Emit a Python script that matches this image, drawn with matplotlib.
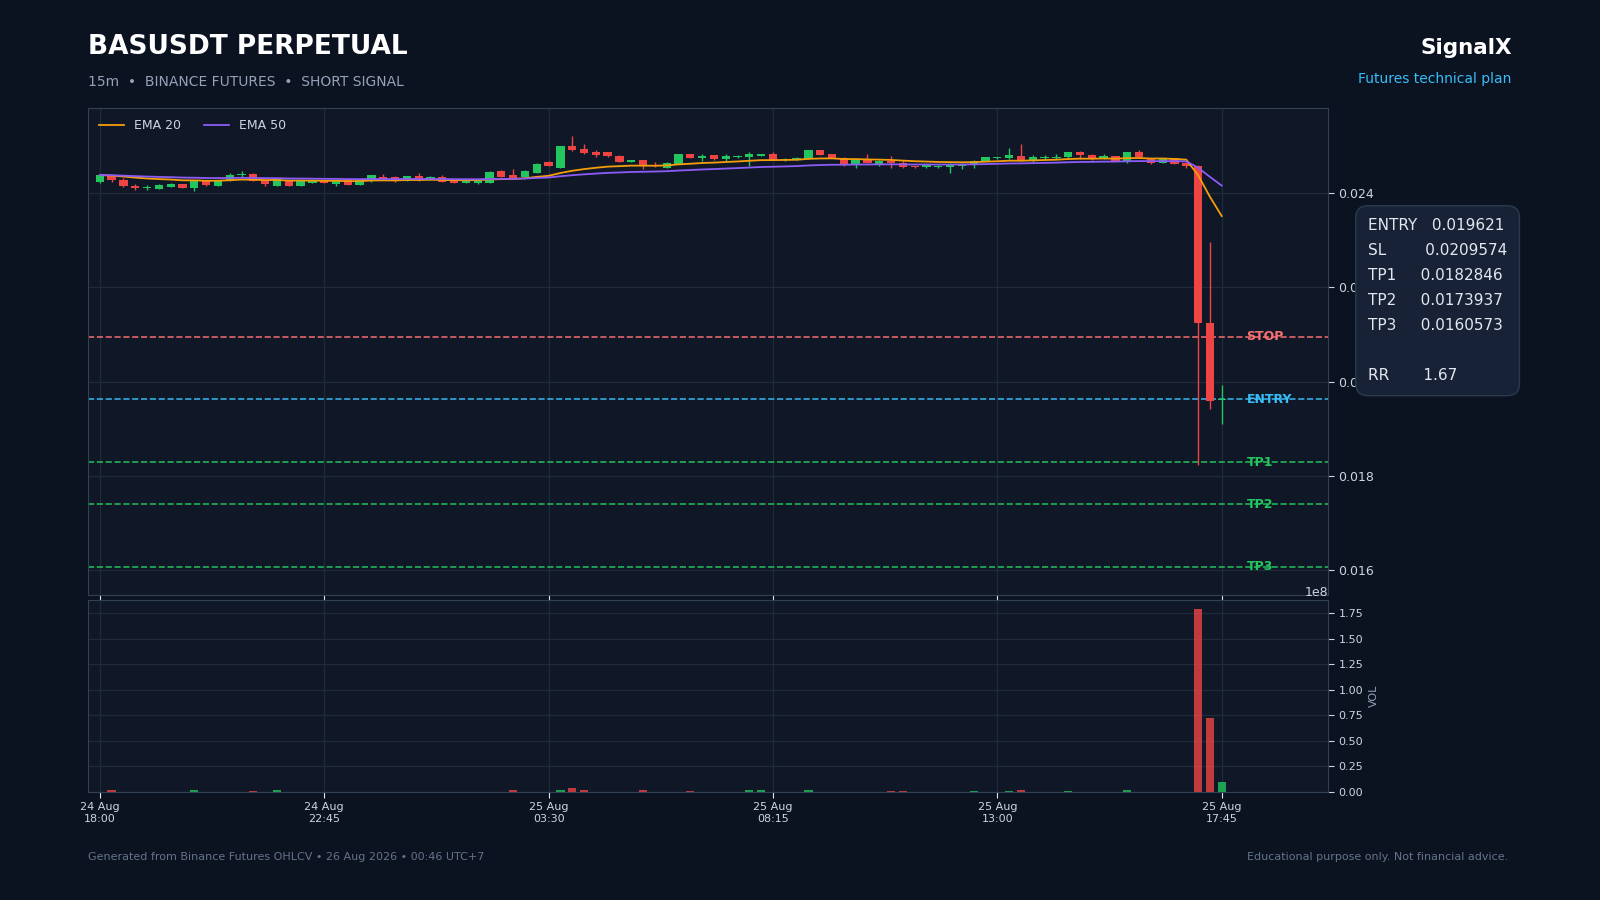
import numpy as np
import pandas as pd
import matplotlib
matplotlib.use("Agg")
import matplotlib.pyplot as plt

# ---------------- data (15m candles, 24 Aug 18:00 -> 25 Aug 17:45) ----------------
opens = [0.02425, 0.02438, 0.02428, 0.02416, 0.02411, 0.02410, 0.02414, 0.02420, 0.02412, 0.02428,
         0.02416, 0.02427, 0.02440, 0.02441, 0.02428, 0.02416, 0.02428, 0.02416, 0.02423, 0.02428,
         0.02421, 0.02428, 0.02418, 0.02426, 0.02435, 0.02435, 0.02427, 0.02437, 0.02430, 0.02434,
         0.02429, 0.02423, 0.02423, 0.02423, 0.02448, 0.02439, 0.02434, 0.02444, 0.02467, 0.02454,
         0.02500, 0.02494, 0.02487, 0.02487, 0.02480, 0.02467, 0.02470, 0.02461, 0.02455, 0.02463,
         0.02483, 0.02476, 0.02481, 0.02473, 0.02478, 0.02478, 0.02480, 0.02483, 0.02470, 0.02474,
         0.02474, 0.02492, 0.02483, 0.02476, 0.02460, 0.02474, 0.02463, 0.02468, 0.02465, 0.02458,
         0.02456, 0.02456, 0.02456, 0.02458, 0.02463, 0.02469, 0.02475, 0.02476, 0.02480, 0.02470,
         0.02476, 0.02476, 0.02477, 0.02487, 0.02481, 0.02474, 0.02479, 0.02469, 0.02487, 0.02475,
         0.02465, 0.02475, 0.02465, 0.02459, 0.02124, 0.01960]
highs = [0.02441, 0.02440, 0.02433, 0.02420, 0.02417, 0.02420, 0.02422, 0.02421, 0.02428, 0.02429,
         0.02429, 0.02444, 0.02447, 0.02443, 0.02429, 0.02431, 0.02429, 0.02428, 0.02427, 0.02429,
         0.02429, 0.02429, 0.02429, 0.02440, 0.02441, 0.02436, 0.02438, 0.02444, 0.02436, 0.02440,
         0.02430, 0.02429, 0.02429, 0.02447, 0.02449, 0.02451, 0.02449, 0.02464, 0.02468, 0.02501,
         0.02522, 0.02505, 0.02493, 0.02489, 0.02481, 0.02471, 0.02471, 0.02466, 0.02466, 0.02484,
         0.02484, 0.02484, 0.02482, 0.02484, 0.02482, 0.02487, 0.02484, 0.02488, 0.02475, 0.02477,
         0.02493, 0.02493, 0.02484, 0.02477, 0.02473, 0.02484, 0.02471, 0.02479, 0.02472, 0.02459,
         0.02461, 0.02460, 0.02464, 0.02464, 0.02470, 0.02478, 0.02478, 0.02497, 0.02505, 0.02482,
         0.02482, 0.02484, 0.02489, 0.02490, 0.02484, 0.02484, 0.02480, 0.02488, 0.02493, 0.02476,
         0.02476, 0.02476, 0.02466, 0.02461, 0.02297, 0.01992]
lows = [0.02423, 0.02424, 0.02414, 0.02408, 0.02407, 0.02409, 0.02413, 0.02411, 0.02405, 0.02416,
        0.02415, 0.02426, 0.02435, 0.02426, 0.02416, 0.02415, 0.02415, 0.02415, 0.02422, 0.02422,
        0.02416, 0.02417, 0.02417, 0.02425, 0.02429, 0.02425, 0.02426, 0.02427, 0.02429, 0.02424,
        0.02422, 0.02422, 0.02420, 0.02422, 0.02434, 0.02432, 0.02433, 0.02443, 0.02458, 0.02453,
        0.02491, 0.02484, 0.02478, 0.02478, 0.02466, 0.02466, 0.02451, 0.02457, 0.02454, 0.02462,
        0.02475, 0.02469, 0.02472, 0.02469, 0.02475, 0.02458, 0.02479, 0.02471, 0.02469, 0.02472,
        0.02473, 0.02481, 0.02475, 0.02458, 0.02455, 0.02464, 0.02458, 0.02455, 0.02454, 0.02455,
        0.02455, 0.02455, 0.02444, 0.02451, 0.02455, 0.02468, 0.02474, 0.02473, 0.02468, 0.02466,
        0.02472, 0.02473, 0.02476, 0.02473, 0.02472, 0.02473, 0.02468, 0.02465, 0.02476, 0.02463,
        0.02464, 0.02462, 0.02453, 0.01822, 0.01942, 0.01909]
closes = [0.02439, 0.02428, 0.02416, 0.02412, 0.02414, 0.02418, 0.02420, 0.02412, 0.02427, 0.02418,
          0.02428, 0.02439, 0.02442, 0.02427, 0.02420, 0.02430, 0.02416, 0.02427, 0.02426, 0.02423,
          0.02428, 0.02418, 0.02428, 0.02439, 0.02430, 0.02426, 0.02437, 0.02428, 0.02435, 0.02425,
          0.02423, 0.02428, 0.02428, 0.02446, 0.02435, 0.02433, 0.02448, 0.02463, 0.02459, 0.02500,
          0.02493, 0.02485, 0.02482, 0.02480, 0.02467, 0.02470, 0.02458, 0.02458, 0.02465, 0.02483,
          0.02476, 0.02480, 0.02473, 0.02479, 0.02479, 0.02483, 0.02483, 0.02472, 0.02474, 0.02475,
          0.02492, 0.02482, 0.02476, 0.02460, 0.02472, 0.02465, 0.02468, 0.02465, 0.02456, 0.02457,
          0.02460, 0.02459, 0.02463, 0.02463, 0.02469, 0.02477, 0.02477, 0.02481, 0.02469, 0.02477,
          0.02478, 0.02478, 0.02487, 0.02481, 0.02473, 0.02479, 0.02469, 0.02487, 0.02477, 0.02464,
          0.02475, 0.02463, 0.02459, 0.02124, 0.01958, 0.019621]
volumes_m = [0.2, 1.6, 0.3, 0.2, 0.1, 0.2, 0.1, 0.2, 1.5, 0.2,
             0.2, 0.3, 0.2, 1.4, 0.2, 1.6, 0.2, 0.2, 0.1, 0.1,
             0.2, 0.2, 0.2, 0.3, 0.1, 0.2, 0.2, 0.2, 0.1, 0.2,
             0.2, 0.1, 0.2, 0.3, 0.3, 1.5, 0.3, 0.3, 0.3, 1.7,
             3.6, 1.6, 0.2, 0.2, 0.3, 0.2, 1.5, 0.2, 0.2, 0.3,
             1.4, 0.2, 0.2, 0.2, 0.1, 1.5, 1.6, 0.3, 0.2, 0.1,
             1.5, 0.3, 0.2, 0.3, 0.3, 0.2, 0.2, 1.3, 1.4, 0.1,
             0.1, 0.1, 0.2, 0.2, 1.3, 0.3, 0.1, 1.4, 1.5, 0.2,
             0.1, 0.1, 1.4, 0.2, 0.2, 0.2, 0.2, 1.5, 0.3, 0.3,
             0.2, 0.3, 0.4, 178.9, 72.3, 9.8]  # millions

entry = 0.019621
stop_loss = 0.0209574
tp1 = 0.0182846
tp2 = 0.0173937
tp3 = 0.0160573
rr = 1.67

times = pd.date_range("2026-08-24 18:00", periods=len(closes), freq="15min")

# ---------------- colours ----------------
BG = "#0b1220"
PANEL = "#101827"
GRID = "#1f2a3b"
SPINE = "#334155"
TXT = "#cbd5e1"
GREEN = "#22c55e"
RED = "#ef4444"

df = pd.DataFrame({"open": opens, "high": highs, "low": lows, "close": closes,
                   "volume": np.array(volumes_m) * 1e6}, index=times)
df["ema20"] = df["close"].ewm(span=20, adjust=False).mean()
df["ema50"] = df["close"].ewm(span=50, adjust=False).mean()

x = np.arange(len(df))
up = df["close"] >= df["open"]
cols = np.where(up, GREEN, RED)

fig = plt.figure(figsize=(16, 9), dpi=100, facecolor=BG)
ax = fig.add_axes([0.055, 0.3389, 0.775, 0.5411], facecolor=PANEL)
axv = fig.add_axes([0.055, 0.12, 0.775, 0.2133], facecolor=PANEL, sharex=ax)

# candles
ax.vlines(x, df["low"], df["high"], color=cols, lw=1.0, zorder=3)
body_lo = np.minimum(df["open"], df["close"])
body_h = np.maximum((df["close"] - df["open"]).abs(), 0.000015)
ax.bar(x, body_h, bottom=body_lo, width=0.7, color=cols, linewidth=0, zorder=4)

ax.plot(x, df["ema20"], color="#f59e0b", lw=1.3, label="EMA 20", zorder=5)
ax.plot(x, df["ema50"], color="#8b5cf6", lw=1.3, label="EMA 50", zorder=5)

# trade levels
levels = [("STOP", stop_loss, "#f87171"), ("ENTRY", entry, "#38bdf8"),
          ("TP1", tp1, GREEN), ("TP2", tp2, GREEN), ("TP3", tp3, GREEN)]
for name, val, c in levels:
    ax.axhline(val, color=c, ls="--", lw=1.2, alpha=0.9, zorder=2)
    ax.text(len(df) + 1.1, val, name, color=c, fontsize=9, fontweight="bold",
            va="center", ha="left", zorder=6)

lo = min(df["low"].min(), tp3)
hi = df["high"].max()
pad = (hi - lo) * 0.065
ax.set_ylim(lo - pad, hi + pad)
ax.set_xlim(-1, len(df) + 8)

# volume
axv.bar(x, df["volume"], width=0.7, color=cols, alpha=0.8, linewidth=0)
axv.set_ylim(0, df["volume"].max() * 1.05)
axv.set_ylabel("VOL", color="#94a3b8", fontsize=8)
axv.yaxis.set_label_position("right")

tick_idx = x[::19]
axv.set_xticks(tick_idx)
axv.set_xticklabels([t.strftime("%d %b\n%H:%M") for t in times[tick_idx]])

for a in (ax, axv):
    a.yaxis.tick_right()
    a.grid(True, color=GRID, lw=0.9)
    a.set_axisbelow(True)
    for s in a.spines.values():
        s.set_color(SPINE)
    a.tick_params(colors=TXT, labelcolor=TXT, length=4)
ax.tick_params(axis="x", labelbottom=False, colors="#e2e8f0")
ax.tick_params(axis="y", labelsize=9)
axv.tick_params(axis="y", labelsize=8)
axv.tick_params(axis="x", labelsize=8, colors="#e2e8f0", labelcolor=TXT)
axv.yaxis.get_offset_text().set_color(TXT)
axv.yaxis.get_offset_text().set_fontsize(9)

ax.legend(loc="upper left", frameon=False, fontsize=9, labelcolor=TXT, ncol=2,
          columnspacing=1.8)

# headings
fig.text(0.055, 0.94, "BASUSDT PERPETUAL", color="white", fontsize=19,
         fontweight="bold", va="baseline")
fig.text(0.055, 0.9044, "15m  \u2022  BINANCE FUTURES  \u2022  SHORT SIGNAL",
         color="#94a3b8", fontsize=10, va="baseline")
fig.text(0.9448, 0.9396, "SignalX", color="white", fontsize=15.5,
         fontweight="bold", ha="right", va="baseline")
fig.text(0.9448, 0.9074, "Futures technical plan", color="#38bdf8",
         fontsize=10, ha="right", va="baseline")

# info box
info = (f"ENTRY   {entry}\n"
        f"SL        {stop_loss}\n"
        f"TP1     {tp1}\n"
        f"TP2     {tp2}\n"
        f"TP3     {tp3}\n"
        f"\n"
        f"RR       {rr}")
fig.text(0.855, 0.7578, info, color="#e2e8f0", fontsize=11, va="top", ha="left",
         linespacing=1.84, zorder=10,
         bbox=dict(boxstyle="round,pad=0.8,rounding_size=0.8", fc="#172236",
                   ec="#2c3a4f", lw=1))

# footer
fig.text(0.055, 0.0444, "Generated from Binance Futures OHLCV \u2022 26 Aug 2026 \u2022 00:46 UTC+7",
         color="#64748b", fontsize=8, va="baseline")
fig.text(0.9426, 0.0444, "Educational purpose only. Not financial advice.",
         color="#64748b", fontsize=8, ha="right", va="baseline")

fig.savefig("out.png", dpi=100, facecolor=BG)
